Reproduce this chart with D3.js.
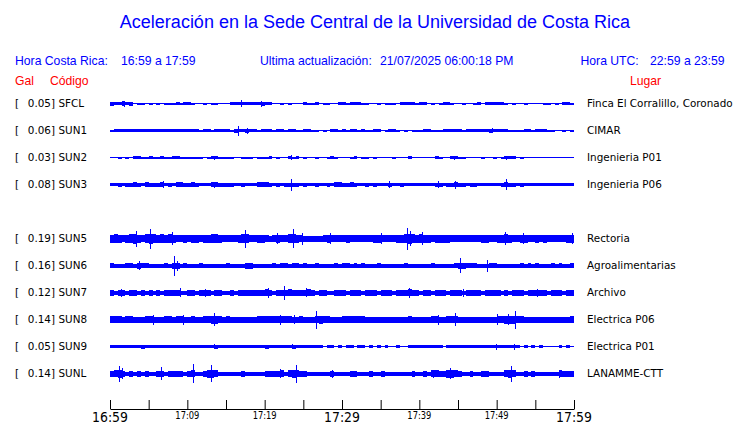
<!DOCTYPE html>
<html><head><meta charset="utf-8">
<script src="https://cdn.jsdelivr.net/npm/d3@7"></script>
<style>body{margin:0;background:#fff}svg{display:block}</style>
</head><body><svg id="c" width="740" height="423"></svg>
<script>
// ---- data ----
const slots = ["SFCL","SUN1","SUN2","SUN3","SUN4","SUN5","SUN6","SUN7","SUN8","SUN9","SUNL"];
const codes = ["SFCL","SUN1","SUN2","SUN3","SUN5","SUN6","SUN7","SUN8","SUN9","SUNL"];
const peakGal = ["0.05","0.06","0.03","0.08","0.19","0.16","0.12","0.14","0.05","0.14"];
const places = ["Finca El Corralillo, Coronado","CIMAR","Ingenieria P01","Ingenieria P06","Rectoria","Agroalimentarias","Archivo","Electrica P06","Electrica P01","LANAMME-CTT"];
// envelope level per half-minute bin (120 bins, 16:59 -> 17:59)
const envSFCL = "322423 011010 101112 122100 101100 022222 222322 001010 002112 011002 212221 100101 110222 212201 012210 010012 022222 101001 000011 010221";
const envSUN1 = "122222 222222 222222 222221 221222 213223 221222 122122 112211 010221 212212 112201 221010 111221 112222 212222 223222 211112 212221 100101";
const envSUN2 = "001010 221121 121122 111111 012211 110011 101112 010021 201001 001210 001201 101000 010002 000000 210022 110000 100101 222010 000000 000000";
const envSUN3 = "223233 432433 342324 433432 224433 332232 224443 232333 323223 223244 334322 323222 322322 222222 332334 332332 222223 433232 222222 222222";
const envSUN5 = "787678 976898 787876 676776 778876 666788 667765 676688 765555 567666 676666 667766 667789 878776 777766 666666 776677 876677 667676 666677";
const envSUN6 = "433344 354433 334355 343334 333333 433335 533333 434434 434334 333343 443434 333433 333343 333334 333334 554443 334433 333343 434333 434334";
const envSUN7 = "535535 535353 535555 335535 553553 353555 555565 355565 555653 553355 535553 555355 535556 553553 555355 535555 355553 535553 555553 555355";
const envSUN8 = "666566 555665 556656 655655 667765 655555 556666 666665 565556 766555 666666 555555 555556 555556 655666 555555 555566 777665 555555 555556";
const envSUN9 = "222222 223222 222222 222222 222322 222222 222232 222223 222222 202202 022022 020202 002002 222222 220222 222222 222222 222202 020200 002020";
const envSUNL = "567535 353533 553555 535633 577633 333353 333355 556367 655333 333533 335533 353353 333333 533536 655776 533533 553333 676335 353333 336555";
// isolated spikes: [minute after 16:59, level]
const spkSFCL = [[1.8,5],[16.9,6],[19.5,5]];
const spkSUN1 = [[16.5,9],[17.7,5],[49.4,4]];
const spkSUN2 = [[13.4,3],[23.4,4],[44.5,3],[51.2,3]];
const spkSUN3 = [[6.9,6],[13.5,5],[23.4,11],[36.1,6],[42.4,6],[44.6,7],[51.2,10]];
const spkSUN5 = [[3.4,15],[5.2,19],[8.0,12],[17.5,17],[21.6,10],[23.6,18],[24.8,11],[28.4,10],[35.0,10],[38.4,21],[38.8,14],[40.3,12],[51.1,12],[53.4,10],[59.7,10]];
const spkSUN6 = [[3.8,8],[8.3,19],[8.7,9],[45.3,14],[48.8,11]];
const spkSUN7 = [[1.4,7],[9.1,8],[12.3,7],[20.4,9],[22.5,13],[25.4,8],[38.6,9],[45.7,7],[55.2,7]];
const spkSUN8 = [[5.5,9],[9.4,9],[13.5,12],[22.0,9],[23.8,8],[26.6,17],[42.4,9],[44.6,12],[50.0,10],[51.5,10],[52.4,17]];
const spkSUN9 = [[13.4,4],[23.5,4],[49.9,5],[52.3,5]];
const spkSUNL = [[1.1,15],[1.5,10],[6.6,12],[10.7,18],[13.0,16],[22.0,8],[24.0,17],[28.7,7],[41.8,7],[44.0,10],[51.9,15],[58.0,7]];
const envelopes = [envSFCL,envSUN1,envSUN2,envSUN3,envSUN5,envSUN6,envSUN7,envSUN8,envSUN9,envSUNL];
const spikes = [spkSFCL,spkSUN1,spkSUN2,spkSUN3,spkSUN5,spkSUN6,spkSUN7,spkSUN8,spkSUN9,spkSUNL];
const binMinutes = 0.5;
const tickMins = [0,5,10,15,20,25,30,35,40,45,50,55,60];
const tickLabels = [[0,"16:59",true],[10,"17:09",false],[20,"17:19",false],[30,"17:29",true],[40,"17:39",false],[50,"17:49",false],[60,"17:59",true]];

// ---- drawing ----
const svg = d3.select("#c");
const BLUE = "#0000ff", RED = "#ff0000";
const sans = "'Liberation Sans', Arial, Helvetica, sans-serif";
const dv = "'DejaVu Sans', sans-serif";

const x = d3.scaleLinear().domain([0,60]).range([110,574]);
const y = d3.scalePoint().domain(slots).range([103.5,373.5]);
const amp = d3.scaleLinear().domain([0,20]).range([0.5,10.5]);

// header
svg.append("text").attr("x",375).attr("y",28).attr("text-anchor","middle")
  .attr("font-family",sans).attr("font-size",18).attr("fill",BLUE)
  .text("Aceleración en la Sede Central de la Universidad de Costa Rica");
const hdr = [[15,"Hora Costa Rica:"],[121,"16:59 a 17:59"],[260,"Ultima actualización:"],[380,"21/07/2025 06:00:18 PM"],[580.5,"Hora UTC:"],[650,"22:59 a 23:59"]];
svg.selectAll("text.hdr").data(hdr).join("text").attr("class","hdr")
  .attr("x",d=>d[0]).attr("y",65).attr("font-family",sans).attr("font-size",12.2)
  .attr("fill",BLUE).text(d=>d[1]);
const sub = [[15,"Gal"],[50,"Código"],[630,"Lugar"]];
svg.selectAll("text.sub").data(sub).join("text").attr("class","sub")
  .attr("x",d=>d[0]).attr("y",85).attr("font-family",sans).attr("font-size",12.2)
  .attr("fill",RED).text(d=>d[1]);

// rows
const rows = codes.map((c,i)=>({code:c, peak:peakGal[i], place:places[i],
  env:envelopes[i].replace(/ /g,"").split("").map(Number), spk:spikes[i]}));

const area = d3.area().curve(d3.curveStepAfter);
const gRows = svg.append("g");
rows.forEach(r=>{
  const cy = y(r.code);
  const pts = r.env.map((v,i)=>({t:i*binMinutes, v}));
  pts.push({t:60, v:r.env[r.env.length-1]});
  gRows.append("path").datum(pts)
    .attr("d", area.x(d=>x(d.t)).y0(d=>cy+amp(d.v)).y1(d=>cy-amp(d.v)))
    .attr("fill",BLUE).attr("shape-rendering","crispEdges");
  gRows.selectAll(null).data(r.spk).join("rect")
    .attr("x",d=>Math.round(x(d[0]))).attr("width",1)
    .attr("y",d=>cy-amp(d[1])).attr("height",d=>2*amp(d[1]))
    .attr("fill",BLUE).attr("shape-rendering","crispEdges");
  const ty = cy+3.8;
  gRows.append("text").attr("x",15).attr("y",ty).attr("font-family",dv).attr("font-size",10.4).text("[");
  gRows.append("text").attr("x",55).attr("y",ty).attr("text-anchor","end").attr("font-family",dv).attr("font-size",10.4).text(r.peak+"]");
  gRows.append("text").attr("x",58.5).attr("y",ty).attr("font-family",dv).attr("font-size",10.4).text(r.code);
  gRows.append("text").attr("x",587).attr("y",ty).attr("font-family",dv).attr("font-size",10.4).text(r.place);
});

// time axis
const axis = d3.axisBottom(x).tickValues(tickMins).tickSize(-9).tickSizeOuter(0).tickFormat(()=>"");
const gAx = svg.append("g").attr("transform","translate(0,409)").call(axis);
gAx.selectAll("path,line").attr("stroke","#000");
svg.selectAll("text.tl").data(tickLabels).join("text").attr("class","tl")
  .attr("x",d=>x(d[0])).attr("y",d=>d[2]?421.5:419.3).attr("text-anchor","middle")
  .attr("font-family",dv).attr("font-size",d=>d[2]?14:10.2)
  .attr("textLength",d=>d[2]?36:24).attr("lengthAdjust","spacingAndGlyphs")
  .attr("fill","#000").text(d=>d[1]);
</script></body></html>
